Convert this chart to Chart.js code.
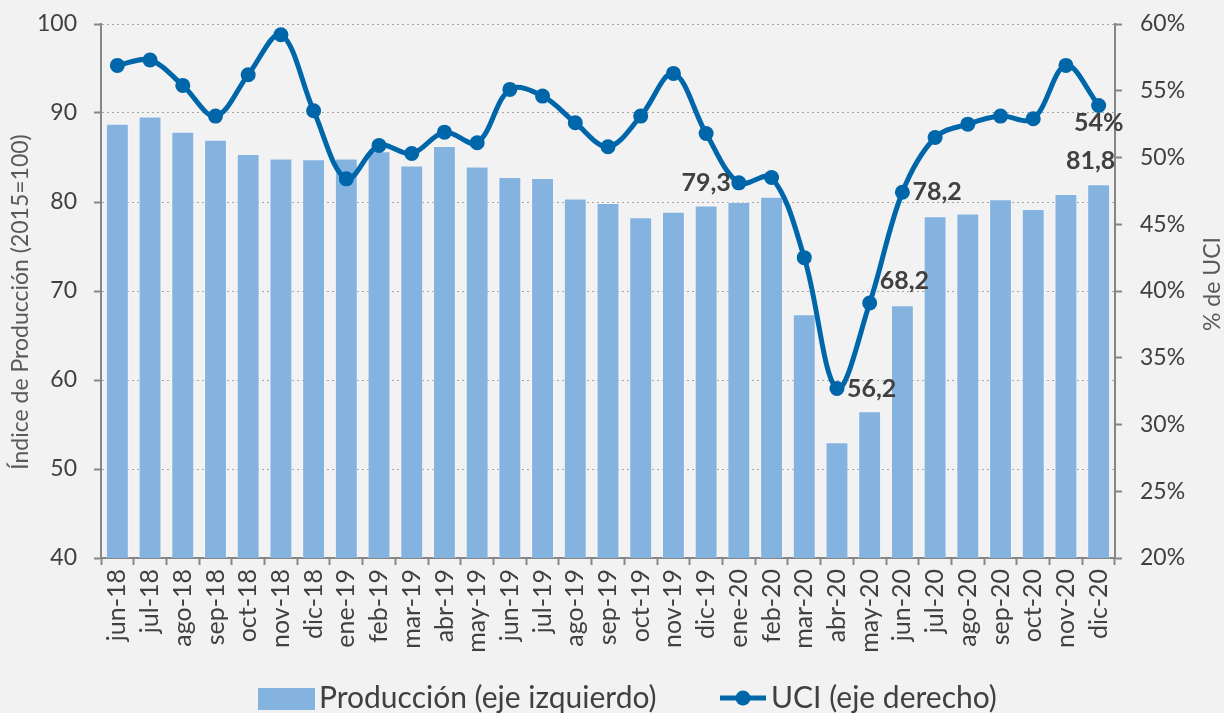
<!DOCTYPE html>
<html lang="es">
<head>
<meta charset="UTF-8">
<title>Producción y UCI</title>
<script src="https://cdn.jsdelivr.net/npm/chart.js"></script>
<style>
    html, body { margin: 0; padding: 0; background: #f2f2f2; }
    .chart-box { width: 1224px; height: 713px; position: relative; }
</style>
</head>
<body>
<div class="chart-box"><canvas id="prodChart"></canvas></div>
<script>
// datos
const months = ['jun-18','jul-18','ago-18','sep-18','oct-18','nov-18','dic-18',
    'ene-19','feb-19','mar-19','abr-19','may-19','jun-19','jul-19','ago-19','sep-19','oct-19','nov-19','dic-19',
    'ene-20','feb-20','mar-20','abr-20','may-20','jun-20','jul-20','ago-20','sep-20','oct-20','nov-20','dic-20'];
const produccion = [88.8, 89.6, 87.9, 87.0, 85.4, 84.9, 84.8,
    84.9, 85.7, 84.1, 86.3, 84.0, 82.8, 82.7, 80.4, 79.9, 78.3, 78.9, 79.6,
    80.0, 80.6, 67.4, 53.0, 56.5, 68.4, 78.4, 78.7, 80.3, 79.2, 80.9, 82.0];
const uci = [56.9, 57.3, 55.4, 53.1, 56.2, 59.2, 53.5,
    48.4, 50.9, 50.3, 51.9, 51.1, 55.1, 54.6, 52.6, 50.8, 53.1, 56.3, 51.8,
    48.1, 48.5, 42.5, 32.7, 39.1, 47.4, 51.5, 52.5, 53.1, 52.9, 56.9, 53.9];
const leftTicks = [40, 50, 60, 70, 80, 90, 100];
const rightTicks = [20, 25, 30, 35, 40, 45, 50, 55, 60];

// etiquetas de datos: serie, mes, texto
const dataLabels = [
    { series: 'uci', month: 'ene-20', text: '79,3', place: 'left' },
    { series: 'uci', month: 'abr-20', text: '56,2', place: 'right' },
    { series: 'uci', month: 'may-20', text: '68,2', place: 'upright' },
    { series: 'uci', month: 'jun-20', text: '78,2', place: 'right' },
    { series: 'uci', month: 'dic-20', text: '54%', place: 'below' },
    { series: 'prod', month: 'dic-20', text: '81,8', place: 'above' }
];

const FONT = 'Lato';
const barColor = '#85b3e0';
const lineColor = '#0066aa';
const textColor = '#404040';
const titleColor = '#595959';
const axisColor = '#868686';

function verticalText(ctx, text, x, y) {
    ctx.save();
    ctx.translate(x, y);
    ctx.rotate(-Math.PI / 2);
    ctx.fillText(text, 0, 0);
    ctx.restore();
}

const extrasPlugin = {
    id: 'extras',
    afterDatasetsDraw(chart) {
        const ctx = chart.ctx;
        const lineMeta = chart.getDatasetMeta(0);
        const barMeta = chart.getDatasetMeta(1);
        ctx.save();

        // etiquetas de valores
        ctx.font = 'bold 25px ' + FONT;
        ctx.fillStyle = textColor;
        ctx.textBaseline = 'middle';
        dataLabels.forEach(l => {
            const i = months.indexOf(l.month);
            const el = (l.series === 'uci' ? lineMeta : barMeta).data[i];
            let x = el.x, y = el.y;
            if (l.place === 'left') { ctx.textAlign = 'right'; x -= 8; }
            else if (l.place === 'right') { ctx.textAlign = 'left'; x += 10; }
            else if (l.place === 'upright') { ctx.textAlign = 'left'; x += 10; y -= 22; }
            else if (l.place === 'below') { ctx.textAlign = 'center'; y += 18; }
            else { ctx.textAlign = 'center'; x -= 8; y -= 23; }
            ctx.fillText(l.text, x, y);
        });

        // títulos de los ejes (leídos de abajo a arriba)
        ctx.font = '23px ' + FONT;
        ctx.fillStyle = titleColor;
        ctx.textAlign = 'center';
        verticalText(ctx, 'Índice de Producción (2015=100)', 21, 302);
        verticalText(ctx, '% de UCI', 1213, 284);
        ctx.restore();

        // leyenda
        ctx.save();
        const ly = 698;
        ctx.font = '30px ' + FONT;
        ctx.textBaseline = 'middle';
        ctx.textAlign = 'left';
        ctx.fillStyle = barColor;
        ctx.fillRect(258, 688, 57, 22);
        ctx.fillStyle = textColor;
        ctx.fillText('Producción (eje izquierdo)', 319, ly);

        ctx.strokeStyle = lineColor;
        ctx.lineWidth = 5;
        ctx.beginPath();
        ctx.moveTo(720, ly);
        ctx.lineTo(766, ly);
        ctx.stroke();
        ctx.fillStyle = lineColor;
        ctx.beginPath();
        ctx.arc(743, ly, 7.5, 0, Math.PI * 2);
        ctx.fill();
        ctx.fillStyle = textColor;
        ctx.fillText('UCI (eje derecho)', 771, ly);
        ctx.restore();
    }
};

// el eje vertical no debe reservar espacio extra arriba/abajo
function fixVertical(width) {
    return s => {
        s.width = width;
        s.paddingTop = 0;
        s.paddingBottom = 0;
    };
}

const ctx = document.getElementById('prodChart').getContext('2d');
const prodChart = new Chart(ctx, {
    type: 'bar',
    data: {
        labels: months,
        datasets: [{
            type: 'line',
            label: 'UCI (eje derecho)',
            data: uci,
            yAxisID: 'y1',
            order: 0,
            borderColor: lineColor,
            backgroundColor: lineColor,
            borderWidth: 5,
            pointRadius: 7.5,
            pointBorderWidth: 0,
            pointBackgroundColor: lineColor,
            tension: 0.35
        }, {
            label: 'Producción (eje izquierdo)',
            data: produccion,
            yAxisID: 'y',
            order: 1,
            backgroundColor: barColor,
            borderColor: 'rgba(255,255,255,0.35)',
            borderWidth: 1,
            barPercentage: 0.7,
            categoryPercentage: 1
        }]
    },
    options: {
        responsive: true,
        maintainAspectRatio: false,
        animation: false,
        layout: { padding: { top: 24, left: 0, right: 0, bottom: 55 } },
        plugins: {
            legend: { display: false },
            tooltip: { enabled: false }
        },
        scales: {
            x: {
                offset: true,
                grid: { drawOnChartArea: false, tickLength: 7, tickColor: axisColor, tickWidth: 2 },
                border: { color: axisColor, width: 2 },
                ticks: {
                    autoSkip: false, minRotation: 90, maxRotation: 90, padding: 4,
                    color: textColor, font: { family: FONT, size: 25 }
                },
                afterFit: s => { s.height = 100; s.paddingLeft = 0; s.paddingRight = 0; }
            },
            y: {
                position: 'left',
                min: leftTicks[0],
                max: leftTicks[leftTicks.length - 1],
                afterBuildTicks: s => { s.ticks = leftTicks.map(v => ({ value: v })); },
                grid: { color: '#a6a6a6', lineWidth: 1, tickColor: axisColor, tickLength: 7, tickWidth: 2 },
                border: { color: axisColor, width: 2, dash: [2, 3] },
                ticks: { padding: 17, color: textColor, font: { family: FONT, size: 23 } },
                afterFit: fixVertical(101)
            },
            y1: {
                position: 'right',
                min: rightTicks[0],
                max: rightTicks[rightTicks.length - 1],
                afterBuildTicks: s => { s.ticks = rightTicks.map(v => ({ value: v })); },
                grid: { drawOnChartArea: false, tickColor: axisColor, tickLength: 7, tickWidth: 2 },
                border: { color: axisColor, width: 2 },
                ticks: {
                    padding: 18, color: textColor, font: { family: FONT, size: 23 },
                    callback: v => v + '%'
                },
                afterFit: fixVertical(109)
            }
        }
    },
    plugins: [extrasPlugin]
});
</script>
</body>
</html>
